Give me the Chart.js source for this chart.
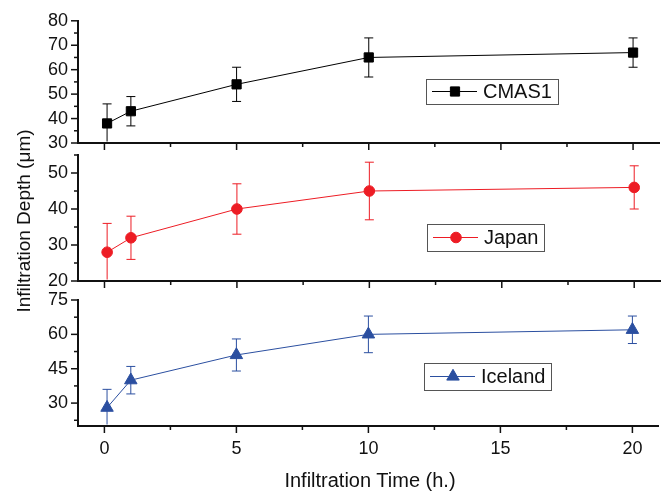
<!DOCTYPE html>
<html>
<head>
<meta charset="utf-8">
<script src="https://cdn.jsdelivr.net/npm/chart.js@4.4.0/dist/chart.umd.min.js"></script>
<style>
  body { margin: 0; background: #fff; }
  #wrap { position: relative; width: 667px; height: 492px; font-family: "Liberation Sans", Arial, sans-serif; }
  #wrap canvas { position: absolute; left: 0; top: 0; }
  .ttl { position: absolute; color: #111; white-space: nowrap; text-align: center; }
</style>
</head>
<body>
<div id="wrap">
  <canvas id="p1" width="667" height="492"></canvas>
  <canvas id="p2" width="667" height="492"></canvas>
  <canvas id="p3" width="667" height="492"></canvas>
  <div class="ttl" style="left:-126px; top:210px; width:300px; height:22px; line-height:22px; font-size:19px; transform:rotate(-90deg);">Infiltration Depth (μm)</div>
  <div class="ttl" style="left:220px; top:469px; width:300px; height:22px; line-height:22px; font-size:20px;">Infiltration Time (h.)</div>
</div>
<script>
// infiltration time (hours)
const timeH = [0.1, 1, 5, 10, 20];
const xTicks = [0, 5, 10, 15, 20];

const cmas1Depth = [38, 43, 54, 65, 67];
const cmas1Err = [8, 6, 7, 8, 6];
const cmas1Ticks = [30, 40, 50, 60, 70, 80];

const japanDepth = [28, 32, 40, 45, 46];
const japanErr = [8, 6, 7, 8, 6];
const japanTicks = [20, 30, 40, 50];

const icelandDepth = [28, 40, 51, 60, 62];
const icelandErr = [8, 6, 7, 8, 6];
const icelandTicks = [30, 45, 60, 75];

const FONT = '"Liberation Sans", Arial, sans-serif';
const INK = '#111';

// majors plus a minor tick half way between them
function withMinors(majors, min, max) {
    const step = majors[1] - majors[0];
    const all = new Set();
    majors.forEach(m => { all.add(m); all.add(m - step / 2); all.add(m + step / 2); });
    return [...all].filter(v => v >= min - 1e-9 && v <= max + 1e-9).sort((a, b) => a - b);
}

function line(ctx, x1, y1, x2, y2) {
    ctx.beginPath();
    ctx.moveTo(x1, y1);
    ctx.lineTo(x2, y2);
    ctx.stroke();
}

function makePanel(id, opt) {
    const xAll = withMinors(xTicks, -1, 21);
    const yAll = withMinors(opt.yTicks, opt.yMin, opt.yMax);

    const panelPlugin = {
        id: 'panelExtras',
        beforeDatasetsDraw(chart) {
            // error bars
            const ctx = chart.ctx, a = chart.chartArea;
            const xs = chart.scales.x, ys = chart.scales.y;
            ctx.save();
            ctx.beginPath();
            ctx.rect(a.left, a.top - 10, a.right - a.left, a.bottom - a.top + 10 - 1.5);
            ctx.clip();
            chart.data.datasets.forEach(ds => {
                ctx.strokeStyle = ds.borderColor;
                ctx.lineWidth = 1;
                ds.data.forEach((p, i) => {
                    const px = xs.getPixelForValue(p.x);
                    const top = ys.getPixelForValue(p.y + ds.errors[i]);
                    const bot = ys.getPixelForValue(p.y - ds.errors[i]);
                    line(ctx, px, top, px, bot);
                    line(ctx, px - 4.5, top, px + 4.5, top);
                    line(ctx, px - 4.5, bot, px + 4.5, bot);
                });
            });
            ctx.restore();
        },
        afterDraw(chart) {
            const ctx = chart.ctx, a = chart.chartArea;
            const xs = chart.scales.x, ys = chart.scales.y;
            ctx.save();
            // tick marks, outward, minor ones shorter
            ctx.strokeStyle = INK;
            ctx.lineWidth = 1.5;
            xs.ticks.forEach(t => {
                const px = xs.getPixelForValue(t.value);
                const len = xTicks.includes(t.value) ? 7 : 4;
                line(ctx, px, a.bottom, px, a.bottom + len);
            });
            ys.ticks.forEach(t => {
                const py = ys.getPixelForValue(t.value);
                const len = opt.yTicks.includes(t.value) ? 7 : 4;
                line(ctx, a.left, py, a.left - len, py);
            });

            // legend box
            const L = opt.legend;
            const cy = L.y + L.h / 2;
            ctx.strokeStyle = '#555';
            ctx.lineWidth = 1;
            ctx.strokeRect(L.x + 0.5, L.y + 0.5, L.w, L.h);
            ctx.strokeStyle = opt.color;
            line(ctx, L.x + 6, cy, L.x + 51, cy);
            ctx.fillStyle = opt.color;
            Chart.helpers.drawPoint(ctx, { pointStyle: opt.style, radius: opt.radius, rotation: 0, borderWidth: 1 }, L.x + 29, cy);
            ctx.fillStyle = INK;
            ctx.font = '20px ' + FONT;
            ctx.textBaseline = 'middle';
            ctx.textAlign = 'left';
            ctx.fillText(opt.label, L.x + 57, cy + 1);
            ctx.restore();
        }
    };

    return new Chart(document.getElementById(id), {
        type: 'line',
        data: {
            datasets: [{
                label: opt.label,
                data: timeH.map((t, i) => ({ x: t, y: opt.values[i] })),
                errors: opt.errors,
                borderColor: opt.color,
                backgroundColor: opt.color,
                borderWidth: 1,
                pointStyle: opt.style,
                pointRadius: opt.radius,
                pointBorderWidth: 1,
                pointBorderColor: opt.color,
                pointBackgroundColor: opt.color,
                tension: 0
            }]
        },
        options: {
            responsive: false,
            animation: false,
            devicePixelRatio: 1,
            layout: { padding: { top: opt.top, right: 5, left: 0, bottom: 0 } },
            plugins: { legend: { display: false }, tooltip: { enabled: false } },
            scales: {
                x: {
                    type: 'linear', min: -1, max: 21,
                    afterBuildTicks: s => { s.ticks = xAll.map(v => ({ value: v })); },
                    afterFit: s => { s.height = 492 - opt.bottom; },
                    grid: { drawOnChartArea: false, drawTicks: false },
                    border: { color: INK, width: 2 },
                    ticks: {
                        display: opt.showX, autoSkip: false, padding: 12, color: INK, maxRotation: 0,
                        font: { size: 18, family: FONT },
                        callback: v => xTicks.includes(v) ? v : ''
                    }
                },
                y: {
                    type: 'linear', min: opt.yMin, max: opt.yMax,
                    afterBuildTicks: s => { s.ticks = yAll.map(v => ({ value: v })); },
                    afterFit: s => { s.width = 78; },
                    grid: { drawOnChartArea: false, drawTicks: false },
                    border: { color: INK, width: 2 },
                    ticks: {
                        autoSkip: false, padding: 10, color: INK,
                        font: { size: 18, family: FONT },
                        callback: v => opt.yTicks.includes(v) ? v : ''
                    }
                }
            }
        },
        plugins: [panelPlugin]
    });
}

makePanel('p1', {
    label: 'CMAS1', color: '#000000', style: 'rect', radius: 6.5,
    values: cmas1Depth, errors: cmas1Err,
    yMin: 30, yMax: 80, yTicks: cmas1Ticks,
    top: 17, bottom: 143, showX: false,
    legend: { x: 426, y: 79, w: 132, h: 25 }
});

makePanel('p2', {
    label: 'Japan', color: '#ED1C24', style: 'circle', radius: 5.3,
    values: japanDepth, errors: japanErr,
    yMin: 20, yMax: 55, yTicks: japanTicks,
    top: 155, bottom: 281, showX: false,
    legend: { x: 427, y: 224, w: 117, h: 27 }
});

makePanel('p3', {
    label: 'Iceland', color: '#2B4FA0', style: 'triangle', radius: 7.2,
    values: icelandDepth, errors: icelandErr,
    yMin: 20, yMax: 75, yTicks: icelandTicks,
    top: 300, bottom: 426, showX: true,
    legend: { x: 424, y: 363, w: 127, h: 27 }
});
</script>
</body>
</html>
